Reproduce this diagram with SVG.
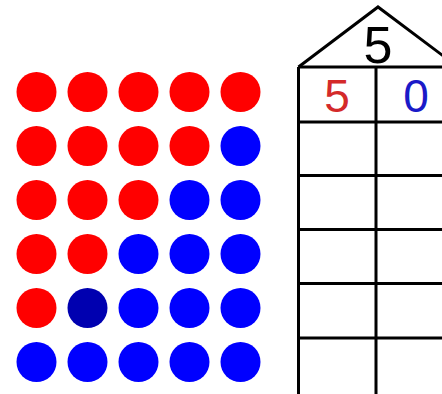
<svg xmlns="http://www.w3.org/2000/svg" width="442" height="394" viewBox="0 0 442 394">
<style>
.r{fill:#ff0000}
.b{fill:#0000ff}
.d{fill:#0000b0}
.ln{stroke:#000;stroke-width:3;fill:none}
.t{font-family:"Liberation Sans",Arial,sans-serif;text-anchor:middle}
</style>
<rect width="442" height="394" fill="#fff"/>
<g id="dots">
<circle class="r" cx="36.5" cy="92" r="20"/><circle class="r" cx="87.5" cy="92" r="20"/><circle class="r" cx="138.5" cy="92" r="20"/><circle class="r" cx="189.5" cy="92" r="20"/><circle class="r" cx="240.5" cy="92" r="20"/>
<circle class="r" cx="36.5" cy="146" r="20"/><circle class="r" cx="87.5" cy="146" r="20"/><circle class="r" cx="138.5" cy="146" r="20"/><circle class="r" cx="189.5" cy="146" r="20"/><circle class="b" cx="240.5" cy="146" r="20"/>
<circle class="r" cx="36.5" cy="200" r="20"/><circle class="r" cx="87.5" cy="200" r="20"/><circle class="r" cx="138.5" cy="200" r="20"/><circle class="b" cx="189.5" cy="200" r="20"/><circle class="b" cx="240.5" cy="200" r="20"/>
<circle class="r" cx="36.5" cy="254" r="20"/><circle class="r" cx="87.5" cy="254" r="20"/><circle class="b" cx="138.5" cy="254" r="20"/><circle class="b" cx="189.5" cy="254" r="20"/><circle class="b" cx="240.5" cy="254" r="20"/>
<circle class="r" cx="36.5" cy="308" r="20"/><circle class="d" cx="87.5" cy="308" r="20"/><circle class="b" cx="138.5" cy="308" r="20"/><circle class="b" cx="189.5" cy="308" r="20"/><circle class="b" cx="240.5" cy="308" r="20"/>
<circle class="b" cx="36.5" cy="362" r="20"/><circle class="b" cx="87.5" cy="362" r="20"/><circle class="b" cx="138.5" cy="362" r="20"/><circle class="b" cx="189.5" cy="362" r="20"/><circle class="b" cx="240.5" cy="362" r="20"/>
</g>
<g id="house">
<polyline class="ln" points="298.5,67 378,7 458,67"/>
<line class="ln" x1="298.5" y1="67" x2="442" y2="67"/>
<line class="ln" x1="298.5" y1="67" x2="298.5" y2="394"/>
<line class="ln" x1="376" y1="67" x2="376" y2="394"/>
<line class="ln" x1="298.5" y1="122" x2="442" y2="122"/>
<line class="ln" x1="298.5" y1="175.5" x2="442" y2="175.5"/>
<line class="ln" x1="298.5" y1="229.5" x2="442" y2="229.5"/>
<line class="ln" x1="298.5" y1="283.5" x2="442" y2="283.5"/>
<line class="ln" x1="298.5" y1="338" x2="442" y2="338"/>
<text class="t" x="378" y="63" font-size="52" fill="#000">5</text>
<text class="t" x="337" y="112" font-size="46" fill="#d42a2a">5</text>
<text class="t" x="416" y="112" font-size="46" fill="#1a1ac8">0</text>
</g>
</svg>
